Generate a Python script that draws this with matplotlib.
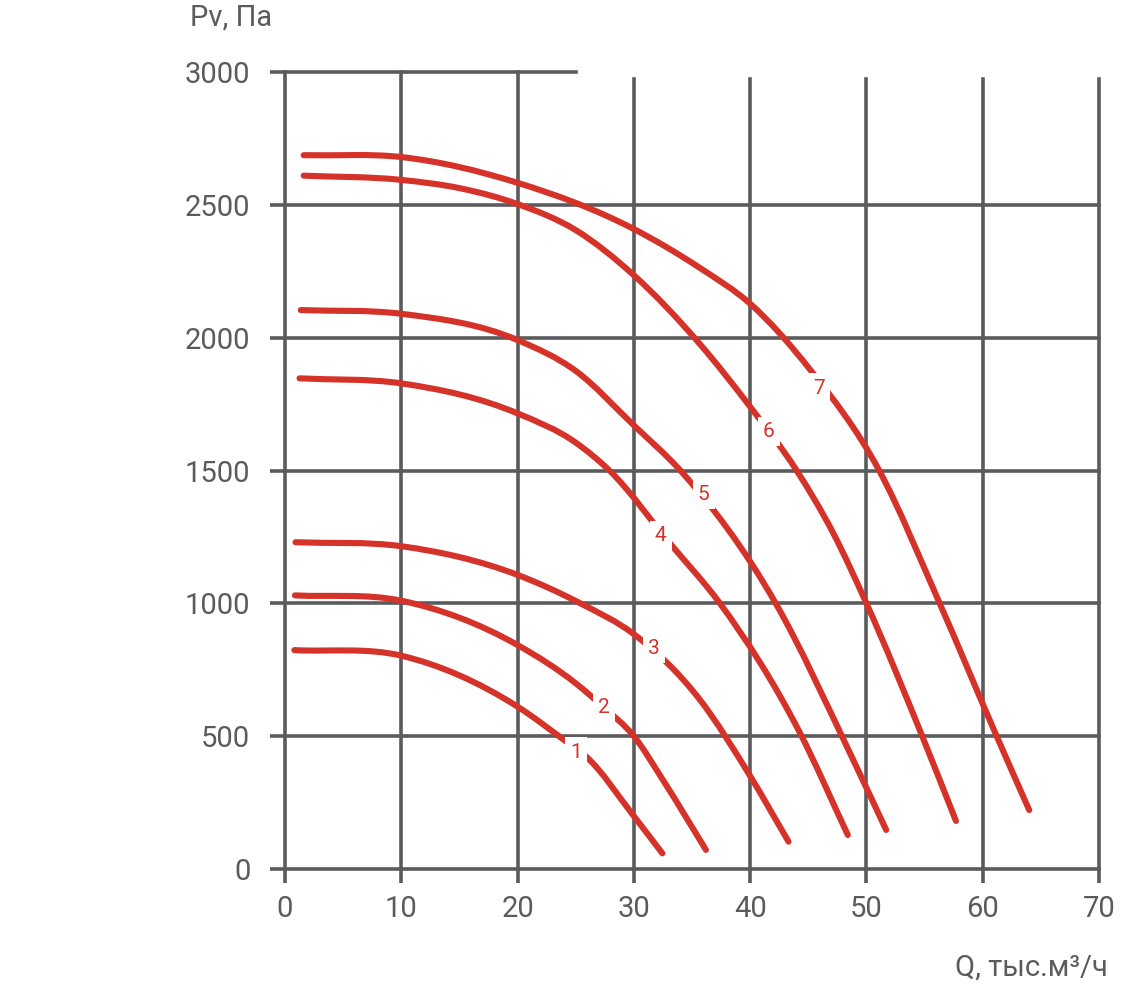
import numpy as np
import matplotlib
matplotlib.use("Agg")
import matplotlib.pyplot as plt
from matplotlib import font_manager
from matplotlib.path import Path
from matplotlib.patches import PathPatch

# curve data: Q (thousand m3/h) and Pv (Pa)
q1 = [0.8, 10, 20, 24.2, 25.9, 30, 32.45]
p1 = [824, 803, 611, 479, 423, 199, 59]
q2 = [0.85, 10, 20, 25, 27.4, 30, 32.5, 36.2]
p2 = [1030, 1010, 843, 699, 609, 500, 335, 72]
q3 = [0.9, 10, 20, 25.4, 30, 35.7, 40, 43.3]
p3 = [1230, 1215, 1107, 1000, 884, 636, 350, 103]
q4 = [1.25, 10, 20, 25, 27.9, 33.1, 37.4, 44.3, 48.4]
p4 = [1847, 1828, 1715, 1605, 1500, 1226, 1000, 511, 128]
q5 = [1.35, 10, 20, 25, 30, 34, 42.2, 48.6, 51.7]
p5 = [2104, 2090, 1991, 1875, 1670, 1500, 1000, 435, 147]
q6 = [1.6, 10, 15, 20, 25, 30, 35.7, 40, 44, 47.15, 50, 54.8, 57.7]
p6 = [2610, 2594, 2563, 2503, 2405, 2235, 1975, 1740, 1500, 1264, 1000, 500, 181]
q7 = [1.6, 10, 20, 30, 35.7, 40, 45.1, 51.1, 56.3, 61.2, 64]
p7 = [2687, 2680, 2583, 2409, 2262, 2128, 1883, 1500, 1000, 500, 222]

curves = [(q1, p1), (q2, p2), (q3, p3), (q4, p4), (q5, p5), (q6, p6), (q7, p7)]
labels = ["1", "2", "3", "4", "5", "6", "7"]
label_q = [25.0, 27.4, 31.7, 32.3, 36.0, 41.6, 45.9]
label_p = [440, 609, 831, 1254, 1410, 1646, 1810]

xticks = [0, 10, 20, 30, 40, 50, 60, 70]
yticks = [0, 500, 1000, 1500, 2000, 2500, 3000]

names = {f.name for f in font_manager.fontManager.ttflist}
fam = ["Liberation Sans Narrow", "DejaVu Sans"] if "Liberation Sans Narrow" in names else ["Roboto", "DejaVu Sans"]
plt.rcParams['font.family'] = fam

grey = "#5a5b5d"
red = "#d5332a"


def smooth_path(x, y):
    # hermite bezier segments through the read points (smooth line look)
    x = np.asarray(x, float)
    y = np.asarray(y, float)
    h = np.diff(x)
    d = np.diff(y) / h
    m = np.empty_like(y)
    m[0], m[-1] = d[0], d[-1]
    for i in range(1, len(x) - 1):
        m[i] = (d[i - 1] * h[i] + d[i] * h[i - 1]) / (h[i - 1] + h[i])
    verts = [(x[0], y[0])]
    codes = [Path.MOVETO]
    for i in range(len(x) - 1):
        verts += [(x[i] + h[i] / 3, y[i] + m[i] * h[i] / 3),
                  (x[i + 1] - h[i] / 3, y[i + 1] - m[i + 1] * h[i] / 3),
                  (x[i + 1], y[i + 1])]
        codes += [Path.CURVE4] * 3
    return Path(verts, codes)


fig = plt.figure(figsize=(11.48, 9.91), dpi=100)
ax = fig.add_axes([0.2483, 0.1231, 0.7090, 0.8042])
ax.set_xlim(0, 70)
ax.set_ylim(0, 3000)
for s in ax.spines.values():
    s.set_visible(False)

# grid: top line only partly drawn, right-hand verticals stop a bit short
for y in yticks:
    xmax = 25 / 70 if y == 3000 else 1
    ax.axhline(y, xmin=0, xmax=xmax, color=grey, lw=2.6, zorder=1, clip_on=False)
for x in xticks:
    ymax = 1 if x <= 20 else 2974 / 3000
    ax.axvline(x, ymin=0, ymax=ymax, color=grey, lw=2.6, zorder=1, clip_on=False)

ax.set_xticks(xticks)
ax.set_yticks(yticks)
ax.tick_params(axis='y', direction='out', length=11, width=2.6, color=grey,
               labelcolor=grey, labelsize=21, pad=14)
ax.tick_params(axis='x', direction='out', length=10, width=2.6, color=grey,
               labelcolor=grey, labelsize=21, pad=9)

for (q, p) in curves:
    patch = PathPatch(smooth_path(q, p), fill=False, ec=red, lw=4.4,
                      capstyle='round', joinstyle='round', zorder=3, clip_on=False)
    ax.add_patch(patch)

for lab, x, y in zip(labels, label_q, label_p):
    ax.text(x, y, lab, color=red, fontsize=15, ha='center', va='center', zorder=4,
            bbox=dict(boxstyle='square,pad=0.25', fc='white', ec='none'))

fig.text(190 / 1148, 1 - 18 / 991, "Pv, Па", color=grey, fontsize=21, ha='left', va='center')
fig.text(1108 / 1148, 1 - 968 / 991, "Q, тыс.м³/ч", color=grey, fontsize=21, ha='right', va='center')

fig.savefig("out.png", dpi=100, facecolor='white')
